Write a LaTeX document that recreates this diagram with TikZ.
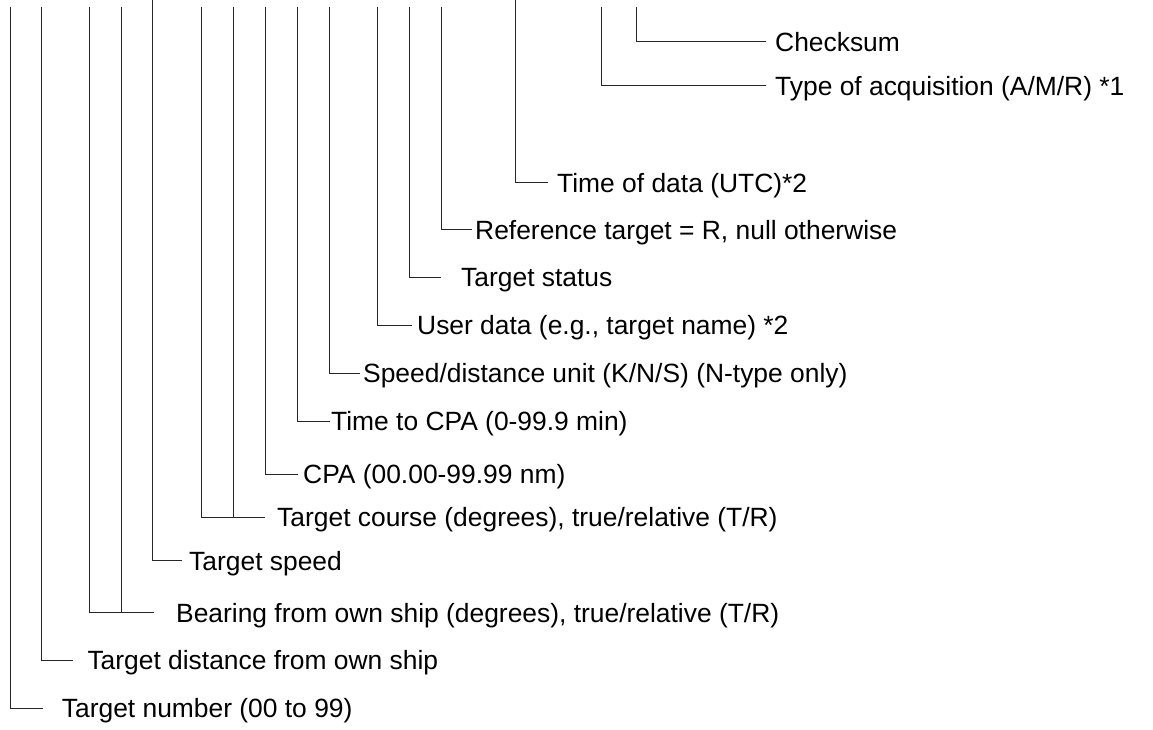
\documentclass[tikz,border=0pt]{standalone}
\usepackage{fontspec}
\setmainfont{Liberation Sans}
\usepackage{tikz}
\usetikzlibrary{calc, positioning}

\begin{document}
\begin{tikzpicture}[
  x=1pt, y=-1pt,
  lab/.style={font=\fontsize{26.4}{30}\selectfont, anchor=west, inner sep=0pt,
              text height=19pt, text depth=0pt},
  lead/.style={draw=black!85, line width=0.9pt}
]
\useasboundingbox (0,0) rectangle (1153,730);

\def\ytop{7}

% labels, top to bottom
\node[lab] (chk)  at (775, 41.7)  {Checksum};
\node[lab] (acq)  at (775, 85.7)  {Type of acquisition (A/M/R) *1};
\node[lab] (utc)  at (557, 182.7) {Time of data (UTC)*2};
\node[lab] (ref)  at (475, 229.5) {Reference target = R, null otherwise};
\node[lab] (stat) at (461, 277.3) {Target status};
\node[lab] (user) at (417, 325)   {User data (e.g., target name) *2};
\node[lab] (unit) at (363, 373)   {Speed/distance unit (K/N/S) (N-type only)};
\node[lab] (tcpa) at (331, 421)   {Time to CPA (0-99.9 min)};
\node[lab] (cpa)  at (303, 474)   {CPA (00.00-99.99 nm)};
\node[lab] (crs)  at (277, 517.3) {Target course (degrees), true/relative (T/R)};
\node[lab] (spd)  at (189, 560.7) {Target speed};
\node[lab] (brg)  at (176, 612.7) {Bearing from own ship (degrees), true/relative (T/R)};
\node[lab] (dist) at (87.3, 660)  {Target distance from own ship};
\node[lab] (num)  at (61.7, 708.3){Target number (00 to 99)};

% upper ends of the leaders
\coordinate (numT)  at (10, \ytop);
\coordinate (distT) at (41.5, \ytop);
\coordinate (brgT)  at (89.5, \ytop);
\coordinate (brgT2) at (121.5, \ytop);
\coordinate (spdT)  at (152.5, 0);
\coordinate (crsT)  at (201.5, \ytop);
\coordinate (crsT2) at (233.5, \ytop);
\coordinate (cpaT)  at (265.5, \ytop);
\coordinate (tcpaT) at (297.5, \ytop);
\coordinate (unitT) at (329.5, \ytop);
\coordinate (userT) at (377.5, \ytop);
\coordinate (statT) at (409.5, \ytop);
\coordinate (refT)  at (441.5, \ytop);
\coordinate (utcT)  at (515.5, 0);
\coordinate (acqT)  at (601.5, \ytop);
\coordinate (chkT)  at (636, \ytop);

\draw[lead] (chkT)  |- ([xshift=-9pt]chk.west);
\draw[lead] (acqT)  |- ([xshift=-9pt]acq.west);
\draw[lead] (utcT)  |- ([xshift=-9pt]utc.west);
\draw[lead] (refT)  |- ([xshift=-3pt]ref.west);
\draw[lead] (statT) |- ([xshift=-20pt]stat.west);
\draw[lead] (userT) |- ([xshift=-5pt]user.west);
\draw[lead] (unitT) |- ([xshift=-3pt]unit.west);
\draw[lead] (tcpaT) |- ([xshift=-1.5pt]tcpa.west);
\draw[lead] (cpaT)  |- ([xshift=-5pt]cpa.west);
\draw[lead] (crsT)  |- ([xshift=-12pt]crs.west);
\draw[lead] (crsT2) -- (crsT2 |- crs.west);
\draw[lead] (spdT)  |- ([xshift=-7pt]spd.west);
\draw[lead] (brgT)  |- ([xshift=-22pt]brg.west);
\draw[lead] (brgT2) -- (brgT2 |- brg.west);
\draw[lead] (distT) |- ([xshift=-14pt]dist.west);
\draw[lead] (numT)  |- ([xshift=-19pt]num.west);

\end{tikzpicture}
\end{document}
